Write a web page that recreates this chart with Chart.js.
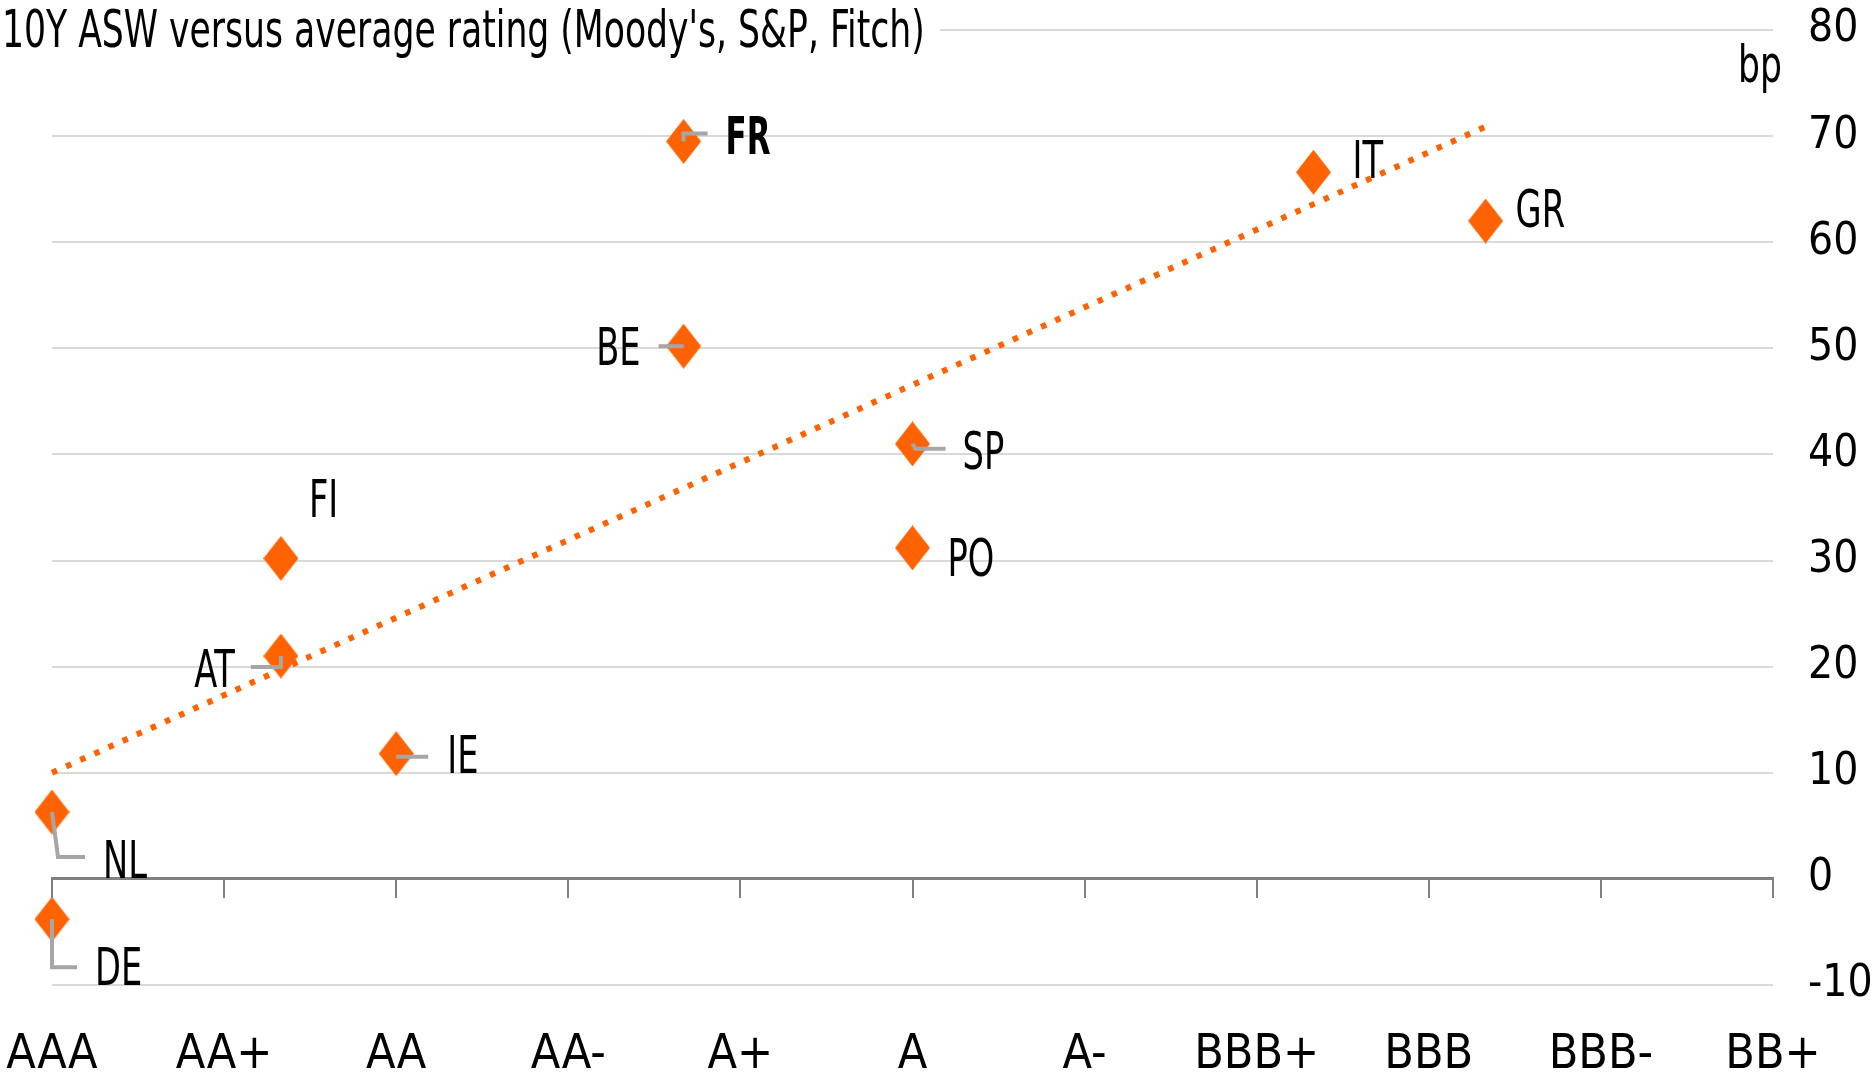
<!DOCTYPE html>
<html>
<head>
<meta charset="utf-8">
<title>10Y ASW versus average rating</title>
<script src="https://cdn.jsdelivr.net/npm/chart.js@4.4.1/dist/chart.umd.min.js"></script>
<style>
  html, body { margin: 0; padding: 0; background: #fff; }
  #wrap { width: 1875px; height: 1076px; position: relative; }
  canvas { display: block; }
</style>
</head>
<body>
<div id="wrap"><canvas id="c" width="1875" height="1076"></canvas></div>
<script>
// ---- data ----
const countries   = ['DE', 'NL', 'AT', 'FI', 'IE', 'BE', 'FR', 'SP', 'PO', 'IT', 'GR'];
// average of Moody's, S&P and Fitch ratings, in notches below AAA
const ratingScore = [0, 0, 1.33, 1.33, 2, 3.67, 3.67, 5, 5, 7.33, 8.33];
// 10Y asset-swap spread, bp
const asw10y      = [-3.8, 6.3, 21.0, 30.2, 11.8, 50.2, 69.5, 41.0, 31.2, 66.6, 62.0];
const ratingTicks = ['AAA', 'AA+', 'AA', 'AA-', 'A+', 'A', 'A-', 'BBB+', 'BBB', 'BBB-', 'BB+'];
// linear trend line end points
const trendX = [0, 8.33];
const trendY = [10.0, 70.9];

const ORANGE = '#FF6200';
const FONT = "'DejaVu Sans Condensed', 'Liberation Sans Narrow', 'Arial Narrow', sans-serif";

// where each country label sits relative to its marker (px), plus leader line
const labelPlacement = {
  DE: { dx: 43,  dy: 66,  align: 'left',  leader: [[0, 0], [0, 48], [25, 48]] },
  NL: { dx: 51,  dy: 66,  align: 'left',  leader: [[0, 0], [6, 45], [33, 45]] },
  AT: { dx: -46, dy: 31,  align: 'right', leader: [[0, 0], [0, 11], [-30, 11]] },
  FI: { dx: 28,  dy: -41, align: 'left' },
  IE: { dx: 51,  dy: 19,  align: 'left',  leader: [[0, 3], [32, 3]] },
  BE: { dx: -43, dy: 19,  align: 'right', leader: [[0, 0], [-25, 0]] },
  FR: { dx: 42,  dy: 13,  align: 'left',  bold: true, leader: [[0, 0], [0, -8], [24, -8]] },
  SP: { dx: 50,  dy: 25,  align: 'left',  leader: [[0, 0], [3, 5], [33, 5]] },
  PO: { dx: 35,  dy: 28,  align: 'left' },
  IT: { dx: 39,  dy: 6,   align: 'left' },
  GR: { dx: 30,  dy: 6,   align: 'left' }
};

// diamond marker, a little taller than wide
function makeDiamond(w, h, color) {
  const c = document.createElement('canvas');
  c.width = w; c.height = h;
  const g = c.getContext('2d');
  g.fillStyle = color;
  g.beginPath();
  g.moveTo(w / 2, 0);
  g.lineTo(w, h / 2);
  g.lineTo(w / 2, h);
  g.lineTo(0, h / 2);
  g.closePath();
  g.fill();
  return c;
}
const diamond = makeDiamond(35, 45, ORANGE);

// text drawn with a horizontal squeeze to get a narrow face
function drawText(ctx, text, x, y, opts) {
  ctx.save();
  ctx.translate(x, y);
  ctx.scale(opts.sx || 1, 1);
  ctx.font = (opts.bold ? 'bold ' : '') + opts.size + 'px ' + FONT;
  ctx.textAlign = opts.align || 'left';
  ctx.textBaseline = 'alphabetic';
  ctx.fillStyle = '#000';
  ctx.fillText(text, 0, 0);
  ctx.restore();
}

const annotate = {
  id: 'annotate',
  afterDatasetsDraw(chart) {
    const ctx = chart.ctx;
    const pts = chart.getDatasetMeta(0).data;
    countries.forEach((name, i) => {
      const p = pts[i];
      const L = labelPlacement[name];
      if (L.leader) {
        ctx.save();
        ctx.strokeStyle = '#A6A6A6';
        ctx.lineWidth = 4;
        ctx.beginPath();
        L.leader.forEach(([dx, dy], k) => {
          if (k === 0) ctx.moveTo(p.x + dx, p.y + dy);
          else ctx.lineTo(p.x + dx, p.y + dy);
        });
        ctx.stroke();
        ctx.restore();
      }
      drawText(ctx, name, p.x + L.dx, p.y + L.dy,
        { align: L.align, bold: L.bold, size: 52, sx: L.bold ? 0.66 : 0.72 });
    });
  },
  afterDraw(chart) {
    const ctx = chart.ctx;
    ctx.save();
    ctx.fillStyle = '#fff';
    ctx.fillRect(0, 0, 940, 62);
    ctx.restore();
    drawText(ctx, "10Y ASW versus average rating (Moody's, S&P, Fitch)", 2, 47, { size: 52, sx: 0.74 });
    drawText(ctx, 'bp', 1782, 82, { size: 52, sx: 0.74, align: 'right' });
  }
};

const ratingTickValues = s => { s.ticks = ratingTicks.map((_, i) => ({ value: i })); };

new Chart(document.getElementById('c'), {
  type: 'scatter',
  data: {
    datasets: [
      {
        label: '10Y ASW',
        data: countries.map((c, i) => ({ x: ratingScore[i], y: asw10y[i] })),
        pointStyle: diamond,
        pointRadius: 17,
        pointHoverRadius: 17,
        order: 1,
        clip: false
      },
      {
        type: 'line',
        label: 'Trend',
        data: trendX.map((x, i) => ({ x, y: trendY[i] })),
        borderColor: ORANGE,
        borderWidth: 6,
        borderDash: [5.5, 10],
        borderCapStyle: 'butt',
        pointRadius: 0,
        fill: false,
        order: 2,
        clip: false
      }
    ]
  },
  options: {
    responsive: false,
    animation: false,
    devicePixelRatio: 1,
    layout: { padding: { left: 52, top: 30, right: 0, bottom: 0 } },
    plugins: { legend: { display: false }, tooltip: { enabled: false } },
    scales: {
      x: {
        type: 'linear', position: 'bottom', min: 0, max: 10,
        afterBuildTicks: ratingTickValues,
        ticks: {
          autoSkip: false, maxRotation: 0, padding: 47,
          font: { family: FONT, size: 48, lineHeight: 1 }, color: '#000',
          callback: v => ratingTicks[v]
        },
        grid: { display: false, drawTicks: false },
        border: { display: false },
        afterFit: s => { s.height = 91; s.paddingLeft = 0; s.paddingRight = 0; }
      },
      xAxis0: {
        type: 'linear', axis: 'x', position: { y: 0 }, min: 0, max: 10,
        afterBuildTicks: ratingTickValues,
        ticks: { display: false, autoSkip: false },
        grid: { drawOnChartArea: false, drawTicks: true, tickLength: 18, color: '#808080', lineWidth: 2 },
        border: { display: true, color: '#808080', width: 3 }
      },
      y: {
        position: 'right', min: -10, max: 80,
        ticks: {
          stepSize: 10, padding: 35, labelOffset: 0,
          font: { family: FONT, size: 44, lineHeight: 1 }, color: '#000'
        },
        grid: {
          color: ctx => (ctx.tick && ctx.tick.value === 0) ? 'rgba(0,0,0,0)' : '#D9D9D9',
          lineWidth: 2, drawTicks: false
        },
        border: { display: false },
        afterFit: s => { s.width = 102; s.paddingTop = 0; s.paddingBottom = 0; }
      }
    }
  },
  plugins: [annotate]
});
</script>
</body>
</html>
